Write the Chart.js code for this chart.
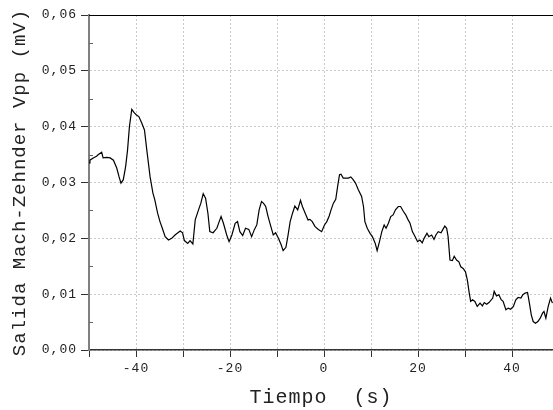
<!DOCTYPE html>
<html lang="es">
<head>
    <meta charset="UTF-8">
    <title>Salida Mach-Zehnder</title>
    <script src="https://cdn.jsdelivr.net/npm/chart.js"></script>
    <style>
        body { margin: 0; background: #ffffff; }
        #wrap { width: 553px; height: 410px; }
    </style>
</head>
<body>
<div id="wrap"><canvas id="vppChart" width="553" height="410"></canvas></div>

<script>
    // tiempo (s) y salida Vpp (mV)
    const timeS = [
        -50, -49.8, -49.1, -48.4, -48.0, -47.3, -47.0, -46.2, -45.5, -44.8,
        -44.1, -43.6, -43.2, -42.7, -42.2, -41.8, -41.4, -40.9, -40.4, -39.9,
        -39.4, -38.8, -38.2, -37.7, -37.0, -36.4, -36.0, -35.4, -34.9, -34.4,
        -33.8, -33.1, -32.4, -31.7, -30.6, -30.1, -29.7, -29.0, -28.5, -27.9,
        -27.4, -26.7, -26.2, -25.7, -25.2, -24.7, -24.3, -23.6, -22.8, -22.3,
        -21.9, -21.4, -20.7, -20.2, -19.6, -18.9, -18.4, -17.9, -17.3, -16.7,
        -16.0, -15.4, -14.8, -14.3, -13.8, -13.3, -12.9, -12.4, -11.9, -11.3,
        -10.8, -10.3, -9.7, -9.1, -8.7, -8.1, -7.7, -7.2, -6.7, -6.2,
        -5.6, -5.0, -4.6, -4.0, -3.4, -3.0, -2.5, -1.9, -1.2, -0.5,
        0.1, 0.6, 1.1, 1.5, 2.0, 2.5, 2.9, 3.3, 3.6, 4.1,
        4.6, 5.2, 5.7, 6.2, 6.7, 7.3, 8.0, 8.4, 8.7, 9.2,
        9.8, 10.3, 10.9, 11.3, 11.8, 12.3, 12.8, 13.2, 13.7, 14.2,
        14.7, 15.2, 15.8, 16.3, 16.9, 17.4, 17.9, 18.3, 18.8, 19.4,
        19.9, 20.4, 20.9, 21.3, 21.9, 22.3, 22.9, 23.4, 23.8, 24.3,
        24.9, 25.3, 25.7, 26.1, 26.4, 26.8, 27.3, 27.7, 28.2, 28.7,
        29.1, 29.6, 30.1, 30.5, 30.9, 31.2, 31.6, 32.1, 32.6, 33.2,
        33.7, 34.1, 34.6, 35.1, 35.9, 36.2, 36.7, 37.2, 37.7, 38.1,
        38.7, 39.2, 39.7, 40.3, 40.8, 41.3, 41.9, 42.3, 42.8, 43.3,
        43.7, 44.1, 44.5, 45.0, 45.5, 46.0, 46.5, 46.8, 47.2, 47.7,
        48.2, 48.6
    ];
    const vppMV = [
        0.0335, 0.034, 0.0344, 0.0347, 0.035, 0.0354, 0.0344, 0.0345, 0.0344, 0.034,
        0.0326, 0.031, 0.0299, 0.0305, 0.0329, 0.0358, 0.040, 0.0431, 0.0425, 0.0421,
        0.0418, 0.0407, 0.0394, 0.0358, 0.031, 0.0281, 0.0269, 0.0245, 0.023, 0.0218,
        0.0203, 0.0197, 0.020, 0.0206, 0.0213, 0.021, 0.0196, 0.0191, 0.0196, 0.019,
        0.0233, 0.0251, 0.0263, 0.028, 0.0272, 0.0245, 0.0212, 0.021, 0.0218, 0.023,
        0.0239, 0.0227, 0.0206, 0.0194, 0.0206, 0.0227, 0.023, 0.0212, 0.0205, 0.0218,
        0.0216, 0.0203, 0.0216, 0.0224, 0.0251, 0.0266, 0.0263, 0.0257, 0.0239, 0.0221,
        0.0206, 0.021, 0.020, 0.0188, 0.0178, 0.0184, 0.0203, 0.023, 0.0245, 0.0258,
        0.0251, 0.0268, 0.0257, 0.0245, 0.0233, 0.0234, 0.023, 0.0221, 0.0216, 0.0212,
        0.0224, 0.023, 0.024, 0.0251, 0.0263, 0.027, 0.0293, 0.0314, 0.0315, 0.0308,
        0.0308, 0.0308, 0.031, 0.0305, 0.0299, 0.0287, 0.0275, 0.0257, 0.023, 0.0218,
        0.0209, 0.0203, 0.0191, 0.0178, 0.0194, 0.0212, 0.0224, 0.0218, 0.0227, 0.0239,
        0.0242, 0.0251, 0.0257, 0.0257, 0.0248, 0.0242, 0.0233, 0.0227, 0.0212, 0.0203,
        0.0194, 0.0197, 0.0192, 0.020, 0.0209, 0.0203, 0.0206, 0.0198, 0.0206, 0.0212,
        0.021, 0.0216, 0.0222, 0.0218, 0.0203, 0.0161, 0.016, 0.0168, 0.0161, 0.0158,
        0.0149, 0.0146, 0.014, 0.0125, 0.0102, 0.0087, 0.009, 0.0087, 0.0078, 0.0084,
        0.0079, 0.0085, 0.0082, 0.0085, 0.0093, 0.0105, 0.0097, 0.0099, 0.009, 0.0087,
        0.0072, 0.0075, 0.0073, 0.0078, 0.009, 0.0094, 0.0093, 0.0099, 0.0102, 0.0103,
        0.0084, 0.0063, 0.0051, 0.0048, 0.0051, 0.0057, 0.0066, 0.0069, 0.0057, 0.0078,
        0.0093, 0.0084
    ];
    const xLabeled = [-40, -20, 0, 20, 40];
    const yMinorTicks = [0.005, 0.015, 0.025, 0.035, 0.045, 0.055];

    const monoFont = '"Liberation Mono", "DejaVu Sans Mono", monospace';

    // extra bits: letter spacing, top frame line and small inner ticks on y
    const framePlugin = {
        id: 'frame',
        beforeDraw(chart) {
            chart.ctx.letterSpacing = '1px';
        },
        afterDraw(chart) {
            const ctx = chart.ctx;
            const area = chart.chartArea;
            const y = chart.scales.y;
            ctx.save();
            ctx.strokeStyle = '#000';
            ctx.lineWidth = 1;
            ctx.beginPath();
            ctx.moveTo(area.left, area.top + 0.5);
            ctx.lineTo(area.right, area.top + 0.5);
            ctx.stroke();
            ctx.strokeStyle = '#666';
            yMinorTicks.forEach(v => {
                const py = Math.round(y.getPixelForValue(v)) + 0.5;
                ctx.beginPath();
                ctx.moveTo(area.left, py);
                ctx.lineTo(area.left + 4, py);
                ctx.stroke();
            });
            ctx.restore();
        }
    };

    new Chart(document.getElementById('vppChart'), {
        type: 'line',
        data: {
            datasets: [{
                data: timeS.map((t, i) => ({ x: t, y: vppMV[i] })),
                borderColor: '#000',
                borderWidth: 1.2,
                pointRadius: 0,
                tension: 0,
                fill: false
            }]
        },
        options: {
            responsive: false,
            animation: false,
            devicePixelRatio: 1,
            layout: { padding: { top: 15, right: 0, left: 0, bottom: 0 } },
            plugins: { legend: { display: false }, tooltip: { enabled: false } },
            scales: {
                x: {
                    type: 'linear',
                    min: -50,
                    max: 48.72,
                    afterFit: s => { s.height = 60; },
                    ticks: {
                        stepSize: 10,
                        includeBounds: false,
                        maxRotation: 0,
                        autoSkip: false,
                        padding: 4,
                        color: '#222',
                        font: { family: monoFont, size: 13 },
                        callback: v => xLabeled.includes(Math.round(v)) ? String(Math.round(v)) : ''
                    },
                    grid: {
                        color: '#c8c8c8',
                        tickColor: '#333',
                        tickLength: 7
                    },
                    border: { color: '#333', width: 1.5, dash: [2, 2] },
                    title: {
                        display: true,
                        text: 'Tiempo  (s)',
                        color: '#222',
                        font: { family: monoFont, size: 20 },
                        padding: { top: 0, bottom: 0 }
                    }
                },
                y: {
                    min: 0,
                    max: 0.06,
                    afterFit: s => { s.width = 89; },
                    ticks: {
                        stepSize: 0.01,
                        padding: 4,
                        color: '#222',
                        font: { family: monoFont, size: 13 },
                        callback: v => v.toFixed(2).replace('.', ',')
                    },
                    grid: {
                        color: '#c8c8c8',
                        tickColor: '#333',
                        tickLength: 8
                    },
                    border: { color: '#808080', width: 2, dash: [2, 2] },
                    title: {
                        display: true,
                        text: 'Salida Mach-Zehnder Vpp (mV)',
                        color: '#222',
                        font: { family: monoFont, size: 19 },
                        padding: { top: 9, bottom: 0 }
                    }
                }
            }
        },
        plugins: [framePlugin]
    });
</script>
</body>
</html>
